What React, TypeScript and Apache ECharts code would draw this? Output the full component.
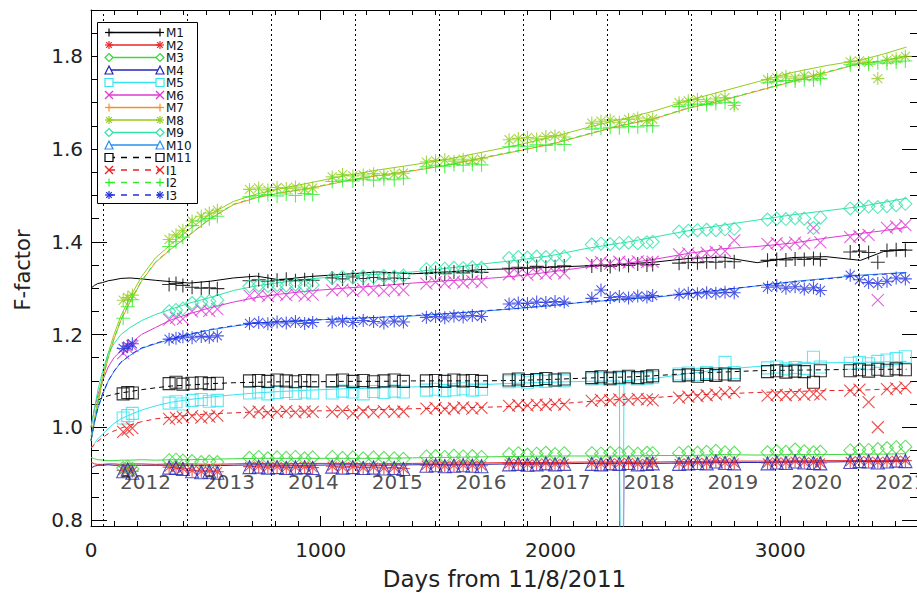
import React, { useEffect, useRef } from "react";
import * as echarts from "echarts";

const FONT = "'DejaVu Sans', sans-serif";

// ---------- axis / annotation data ----------
const xMajorTicks = [0, 1000, 2000, 3000];
const xMinorTicks = [100, 200, 300, 400, 500, 600, 700, 800, 900, 1100, 1200, 1300, 1400, 1500, 1600, 1700, 1800, 1900, 2100, 2200, 2300, 2400, 2500, 2600, 2700, 2800, 2900, 3100, 3200, 3300, 3400, 3500];
const yMajorTicks = [0.8, 1.0, 1.2, 1.4, 1.6, 1.8];
const yMinorTicks = [0.85, 0.9, 0.95, 1.05, 1.1, 1.15, 1.25, 1.3, 1.35, 1.45, 1.5, 1.55, 1.65, 1.7, 1.75, 1.85];
const yearNames = ["2012", "2013", "2014", "2015", "2016", "2017", "2018", "2019", "2020", "2021"];
const yearStartDays = [54, 420, 785, 1150, 1516, 1881, 2246, 2611, 2977, 3342];
const yearMidDays = [237, 603, 968, 1333, 1698, 2064, 2429, 2794, 3159, 3525];
const yearLabelLevel = 0.882;

// ---------- smooth/trend line data ----------
const lineDays = [0, 15, 30, 50, 75, 100, 130, 170, 220, 280, 350, 430, 520, 620, 720, 820, 950, 1100, 1250, 1400, 1550, 1700, 1850, 2000, 2150, 2300, 2305, 2315, 2320, 2450, 2600, 2750, 2900, 3050, 3200, 3350, 3450, 3550];

const lineM1 = [1.300, 1.306, 1.31, 1.312, 1.316, 1.318, 1.321, 1.322, 1.320, 1.317, 1.314, 1.311, 1.315, 1.322, 1.326, 1.318, 1.325, 1.330, 1.335, 1.331, 1.335, 1.340, 1.342, 1.345, 1.348, 1.350, 1.351, 1.349, 1.352, 1.356, 1.364, 1.367, 1.355, 1.366, 1.368, 1.360, 1.379, 1.383];
const lineM2 = [0.925, 0.921, 0.92, 0.92, 0.921, 0.921, 0.92, 0.921, 0.921, 0.92, 0.921, 0.921, 0.92, 0.921, 0.922, 0.921, 0.922, 0.922, 0.921, 0.922, 0.923, 0.923, 0.924, 0.924, 0.925, 0.925, 0.925, 0.925, 0.925, 0.925, 0.926, 0.927, 0.927, 0.927, 0.928, 0.928, 0.928, 0.929];
const lineM3 = [0.935, 0.932, 0.93, 0.929, 0.928, 0.928, 0.929, 0.929, 0.93, 0.929, 0.93, 0.93, 0.931, 0.932, 0.933, 0.933, 0.933, 0.933, 0.933, 0.934, 0.935, 0.936, 0.937, 0.938, 0.938, 0.938, 0.938, 0.938, 0.938, 0.939, 0.939, 0.941, 0.94, 0.941, 0.941, 0.942, 0.942, 0.943];
const lineM4 = [0.912, 0.916, 0.918, 0.918, 0.919, 0.918, 0.918, 0.918, 0.918, 0.918, 0.918, 0.918, 0.917, 0.918, 0.919, 0.918, 0.918, 0.919, 0.918, 0.919, 0.92, 0.92, 0.921, 0.921, 0.922, 0.922, 0.5, 0.5, 0.922, 0.922, 0.923, 0.924, 0.924, 0.925, 0.925, 0.926, 0.926, 0.927];
const lineM5 = [0.955, 0.965, 0.975, 0.985, 0.997, 1.008, 1.018, 1.027, 1.037, 1.046, 1.054, 1.06, 1.065, 1.07, 1.074, 1.077, 1.08, 1.083, 1.085, 1.087, 1.088, 1.092, 1.095, 1.097, 1.099, 1.1, 0.5, 0.5, 1.1, 1.105, 1.116, 1.125, 1.131, 1.136, 1.139, 1.14, 1.141, 1.142];
const lineM6 = [1.0, 1.04, 1.07, 1.1, 1.13, 1.15, 1.165, 1.18, 1.2, 1.215, 1.232, 1.245, 1.258, 1.27, 1.28, 1.287, 1.294, 1.3, 1.305, 1.311, 1.316, 1.32, 1.326, 1.335, 1.345, 1.352, 1.352, 1.353, 1.353, 1.362, 1.375, 1.385, 1.39, 1.397, 1.408, 1.418, 1.424, 1.431];
const lineM7 = [0.97, 1.01, 1.05, 1.1, 1.15, 1.19, 1.23, 1.27, 1.315, 1.355, 1.385, 1.415, 1.45, 1.48, 1.495, 1.505, 1.515, 1.53, 1.543, 1.553, 1.565, 1.58, 1.595, 1.61, 1.63, 1.65, 1.65, 1.651, 1.652, 1.665, 1.688, 1.705, 1.725, 1.745, 1.765, 1.785, 1.79, 1.8];
const lineM8 = [0.98, 1.02, 1.06, 1.11, 1.16, 1.2, 1.24, 1.28, 1.325, 1.365, 1.395, 1.428, 1.46, 1.487, 1.503, 1.514, 1.527, 1.542, 1.555, 1.566, 1.578, 1.593, 1.608, 1.625, 1.645, 1.664, 1.664, 1.665, 1.665, 1.682, 1.705, 1.725, 1.745, 1.765, 1.78, 1.792, 1.805, 1.82];
const lineM9 = [1.0, 1.04, 1.08, 1.12, 1.16, 1.18, 1.2, 1.215, 1.23, 1.243, 1.255, 1.268, 1.28, 1.295, 1.305, 1.312, 1.32, 1.326, 1.33, 1.335, 1.343, 1.352, 1.36, 1.37, 1.385, 1.397, 1.397, 1.398, 1.398, 1.41, 1.424, 1.436, 1.447, 1.458, 1.467, 1.476, 1.485, 1.494];
const lineM10 = [0.97, 1.01, 1.04, 1.07, 1.1, 1.12, 1.14, 1.155, 1.17, 1.18, 1.19, 1.2, 1.21, 1.218, 1.225, 1.228, 1.231, 1.234, 1.237, 1.24, 1.245, 1.25, 1.256, 1.262, 1.27, 1.275, 1.275, 1.276, 1.276, 1.28, 1.288, 1.296, 1.305, 1.314, 1.321, 1.328, 1.331, 1.334];
const lineM11 = [null, null, 1.058, 1.064, 1.068, 1.071, 1.074, 1.077, 1.081, 1.085, 1.089, 1.091, 1.094, 1.096, 1.097, 1.098, 1.098, 1.099, 1.099, 1.1, 1.1, 1.1, 1.101, 1.103, 1.106, 1.108, 1.108, 1.108, 1.108, 1.111, 1.116, 1.119, 1.122, 1.123, 1.124, 1.125, 1.125, 1.125];
const lineI1 = [0.955, 0.962, 0.97, 0.978, 0.986, 0.992, 0.998, 1.005, 1.012, 1.018, 1.022, 1.026, 1.029, 1.031, 1.033, 1.034, 1.035, 1.036, 1.038, 1.04, 1.041, 1.043, 1.045, 1.049, 1.055, 1.06, 1.06, 1.06, 1.06, 1.064, 1.069, 1.072, 1.075, 1.077, 1.079, 1.08, 1.082, 1.084];
const lineI2 = [0.972, 1.012, 1.052, 1.1, 1.152, 1.19, 1.232, 1.272, 1.316, 1.356, 1.386, 1.416, 1.451, 1.481, 1.496, 1.506, 1.516, 1.531, 1.544, 1.554, 1.566, 1.581, 1.596, 1.611, 1.631, 1.651, 1.651, 1.652, 1.653, 1.666, 1.689, 1.706, 1.726, 1.746, 1.766, 1.786, 1.791, 1.801];
const lineI3 = [0.972, 1.012, 1.042, 1.072, 1.1, 1.121, 1.14, 1.156, 1.171, 1.181, 1.191, 1.201, 1.211, 1.219, 1.224, 1.228, 1.231, 1.234, 1.237, 1.241, 1.245, 1.251, 1.256, 1.263, 1.27, 1.276, 1.276, 1.276, 1.276, 1.281, 1.289, 1.297, 1.305, 1.313, 1.32, 1.327, 1.33, 1.333];

// ---------- measurement markers ----------
const markerDays = [
  140, 160, 180,
  340, 370, 400, 440, 480, 515, 550,
  690, 730, 770, 810, 850, 890, 930, 965,
  1050, 1095, 1140, 1185, 1230, 1275, 1320, 1360,
  1460, 1500, 1540, 1580, 1620, 1660, 1700,
  1820, 1860, 1900, 1940, 1980, 2020, 2060,
  2180, 2220, 2260, 2300, 2340, 2380, 2420, 2445,
  2560, 2600, 2640, 2680, 2720, 2760, 2800,
  2945, 2985, 3025, 3065, 3105, 3145, 3175,
  3305, 3345, 3385, 3425, 3465, 3505, 3545,
];

const markM1 = [
  null, null, null,
  1.308, 1.31, 1.306, 1.302, 1.30, 1.301, 1.299,
  1.316, 1.318, 1.315, 1.317, 1.319, 1.316, 1.318, 1.317,
  1.322, 1.32, 1.324, 1.321, 1.323, 1.32, 1.322, 1.321,
  1.332, 1.334, 1.331, 1.335, 1.333, 1.336, 1.334,
  1.343, 1.345, 1.344, 1.347, 1.345, 1.346, 1.348,
  1.348, 1.35, 1.347, 1.351, 1.349, 1.352, 1.35, 1.351,
  1.354, 1.356, 1.355, 1.357, 1.356, 1.358, 1.357,
  1.36, 1.362, 1.361, 1.363, 1.362, 1.364, 1.362,
  1.378, 1.38, 1.377, 1.356, 1.381, 1.383, 1.382,
];
const markM2 = [
  0.907, 0.91, 0.905,
  0.914, 0.913, 0.911, 0.907, 0.905, 0.906, 0.904,
  0.915, 0.916, 0.914, 0.915, 0.913, 0.914, 0.915, 0.913,
  0.916, 0.914, 0.915, 0.913, 0.914, 0.912, 0.913, 0.911,
  0.918, 0.919, 0.917, 0.918, 0.919, 0.918, 0.917,
  0.921, 0.922, 0.92, 0.921, 0.923, 0.921, 0.922,
  0.922, 0.921, 0.923, 0.922, 0.924, 0.921, 0.922, 0.923,
  0.922, 0.923, 0.924, 0.923, 0.927, 0.924, 0.923,
  0.923, 0.925, 0.924, 0.927, 0.925, 0.924, 0.923,
  0.926, 0.928, 0.927, 0.925, 0.927, 0.929, 0.928,
];
const markM3 = [
  0.912, 0.915, 0.91,
  0.929, 0.93, 0.928, 0.927, 0.925, 0.926, 0.925,
  0.934, 0.936, 0.933, 0.935, 0.934, 0.936, 0.933, 0.935,
  0.936, 0.934, 0.935, 0.933, 0.935, 0.934, 0.933, 0.932,
  0.937, 0.938, 0.936, 0.939, 0.937, 0.938, 0.936,
  0.942, 0.944, 0.941, 0.943, 0.945, 0.942, 0.944,
  0.944, 0.943, 0.945, 0.944, 0.946, 0.943, 0.945, 0.944,
  0.944, 0.946, 0.945, 0.947, 0.949, 0.946, 0.945,
  0.946, 0.948, 0.947, 0.952, 0.948, 0.946, 0.947,
  0.95, 0.952, 0.951, 0.953, 0.955, 0.957, 0.958,
];
const markM4 = [
  0.905, 0.909, 0.902,
  0.913, 0.912, 0.91, 0.905, 0.903, 0.904, 0.902,
  0.914, 0.915, 0.913, 0.914, 0.912, 0.913, 0.914, 0.912,
  0.915, 0.913, 0.914, 0.912, 0.913, 0.911, 0.912, 0.91,
  0.917, 0.918, 0.916, 0.917, 0.918, 0.917, 0.916,
  0.92, 0.921, 0.919, 0.92, 0.922, 0.92, 0.921,
  0.921, 0.92, 0.922, 0.921, 0.923, 0.92, 0.921, 0.922,
  0.921, 0.922, 0.923, 0.922, 0.926, 0.923, 0.922,
  0.922, 0.924, 0.923, 0.926, 0.924, 0.923, 0.922,
  0.925, 0.927, 0.926, 0.924, 0.926, 0.928, 0.927,
];
const markM5 = [
  1.02, 1.025, 1.03,
  1.052, 1.055, 1.05, 1.058, 1.06, 1.056, 1.058,
  1.074, 1.076, 1.072, 1.075, 1.077, 1.073, 1.076, 1.074,
  1.074, 1.078, 1.076, 1.072, 1.077, 1.075, 1.078, 1.076,
  1.08, 1.082, 1.079, 1.081, 1.083, 1.08, 1.082,
  1.098, 1.10, 1.097, 1.101, 1.099, 1.102, 1.10,
  1.104, 1.106, 1.103, 1.105, 1.107, 1.104, 1.106, 1.108,
  1.115, 1.117, 1.114, 1.118, 1.116, 1.14, 1.118,
  1.128, 1.13, 1.126, 1.129, 1.127, 1.151, 1.13,
  1.138, 1.14, 1.137, 1.142, 1.145, 1.148, 1.152,
];
const markM6 = [
  1.16, 1.17, 1.175,
  1.232, 1.236, 1.234, 1.25, 1.253, 1.251, 1.255,
  1.284, 1.286, 1.283, 1.287, 1.285, 1.288, 1.284, 1.286,
  1.295, 1.297, 1.294, 1.298, 1.296, 1.294, 1.297, 1.296,
  1.31, 1.313, 1.311, 1.314, 1.312, 1.315, 1.313,
  1.33, 1.332, 1.329, 1.333, 1.331, 1.334, 1.332,
  1.354, 1.356, 1.353, 1.357, 1.355, 1.358, 1.356, 1.357,
  1.373, 1.375, 1.372, 1.376, 1.378, 1.38, 1.403,
  1.395, 1.397, 1.394, 1.398, 1.396, 1.43, 1.399,
  1.41, 1.412, 1.415, 1.274, 1.43, 1.433, 1.436,
];
const markM8 = [
  1.274, 1.28, 1.285,
  1.405, 1.415, 1.425, 1.445, 1.455, 1.462, 1.468,
  1.513, 1.516, 1.512, 1.517, 1.515, 1.518, 1.514, 1.516,
  1.54, 1.545, 1.542, 1.544, 1.547, 1.543, 1.546, 1.548,
  1.572, 1.575, 1.577, 1.574, 1.578, 1.576, 1.579,
  1.62, 1.623, 1.625, 1.622, 1.627, 1.629, 1.626,
  1.656, 1.66, 1.663, 1.658, 1.664, 1.667, 1.662, 1.665,
  1.70, 1.704, 1.707, 1.703, 1.708, 1.711, 1.694,
  1.75, 1.754, 1.757, 1.753, 1.758, 1.756, 1.76,
  1.788, 1.79, 1.787, 1.752, 1.792, 1.795, 1.80,
];
const markM9 = [
  null, null, null,
  1.25, 1.253, 1.256, 1.268, 1.27, 1.272, 1.274,
  1.304, 1.306, 1.305, 1.307, 1.306, 1.308, 1.305, 1.307,
  1.322, 1.324, 1.323, 1.325, 1.324, 1.326, 1.325, 1.327,
  1.341, 1.343, 1.342, 1.344, 1.343, 1.345, 1.344,
  1.365, 1.367, 1.366, 1.368, 1.367, 1.369, 1.368,
  1.394, 1.396, 1.395, 1.397, 1.398, 1.397, 1.399, 1.40,
  1.422, 1.424, 1.425, 1.426, 1.425, 1.427, 1.428,
  1.448, 1.45, 1.449, 1.451, 1.45, 1.43, 1.452,
  1.472, 1.474, 1.476, 1.475, 1.477, 1.479, 1.482,
];
const markM11 = [
  1.072, 1.075, 1.074,
  1.094, 1.097, 1.093, 1.095, 1.096, 1.094, 1.095,
  1.10, 1.101, 1.099, 1.102, 1.10, 1.098, 1.101, 1.10,
  1.10, 1.102, 1.099, 1.101, 1.098, 1.10, 1.102, 1.099,
  1.10, 1.101, 1.099, 1.102, 1.10, 1.101, 1.099,
  1.102, 1.104, 1.101, 1.103, 1.105, 1.102, 1.104,
  1.107, 1.109, 1.106, 1.108, 1.11, 1.107, 1.109, 1.111,
  1.111, 1.113, 1.11, 1.114, 1.112, 1.115, 1.113,
  1.12, 1.122, 1.119, 1.121, 1.12, 1.097, 1.122,
  1.122, 1.124, 1.121, 1.125, 1.123, 1.126, 1.124,
];
const markI1 = [
  0.99, 0.995, 0.998,
  1.018, 1.02, 1.022, 1.024, 1.021, 1.023, 1.025,
  1.032, 1.034, 1.031, 1.033, 1.035, 1.032, 1.034, 1.033,
  1.033, 1.035, 1.03, 1.034, 1.032, 1.035, 1.033, 1.034,
  1.04, 1.042, 1.039, 1.041, 1.043, 1.04, 1.042,
  1.046, 1.048, 1.047, 1.049, 1.048, 1.05, 1.049,
  1.057, 1.059, 1.058, 1.06, 1.059, 1.061, 1.06, 1.058,
  1.064, 1.066, 1.067, 1.069, 1.071, 1.074, 1.076,
  1.068, 1.07, 1.069, 1.071, 1.07, 1.072, 1.071,
  1.079, 1.081, 1.054, 1.0, 1.082, 1.084, 1.086,
];
const markI2 = [
  1.235, 1.26, 1.275,
  1.39, 1.40, 1.41, 1.435, 1.445, 1.45, 1.455,
  1.497, 1.50, 1.502, 1.499, 1.503, 1.50, 1.504, 1.502,
  1.53, 1.533, 1.531, 1.535, 1.533, 1.536, 1.534, 1.537,
  1.562, 1.565, 1.563, 1.567, 1.565, 1.568, 1.566,
  1.605, 1.607, 1.606, 1.609, 1.608, 1.611, 1.61,
  1.643, 1.645, 1.647, 1.646, 1.649, 1.648, 1.651, 1.65,
  1.692, 1.695, 1.697, 1.696, 1.699, 1.701, 1.70,
  1.743, 1.746, 1.748, 1.747, 1.75, 1.749, 1.752,
  1.782, 1.784, 1.783, 1.786, 1.785, 1.788, 1.79,
];
const markI3 = [
  1.17, 1.175, 1.18,
  1.19, 1.192, 1.195, 1.193, 1.196, 1.194, 1.197,
  1.224, 1.226, 1.223, 1.227, 1.225, 1.228, 1.224, 1.226,
  1.227, 1.229, 1.226, 1.23, 1.228, 1.225, 1.229, 1.227,
  1.237, 1.239, 1.236, 1.24, 1.238, 1.241, 1.239,
  1.266, 1.268, 1.267, 1.27, 1.269, 1.271, 1.27,
  1.278, 1.296, 1.28, 1.282, 1.279, 1.283, 1.281, 1.284,
  1.287, 1.289, 1.288, 1.29, 1.289, 1.291, 1.29,
  1.302, 1.305, 1.30, 1.303, 1.298, 1.301, 1.295,
  1.328, 1.318, 1.312, 1.31, 1.315, 1.322, 1.32,
];

// ---------- series definitions (style only) ----------
type Sym = "plus" | "ast" | "diamond" | "triangle" | "square" | "x";
const defs: { name: string; color: string; dash: boolean; sym: Sym; line: (number | null)[]; marks: (number | null)[] | null }[] = [
  { name: "M1", color: "#000000", dash: false, sym: "plus", line: lineM1, marks: markM1 },
  { name: "M2", color: "#e82828", dash: false, sym: "ast", line: lineM2, marks: markM2 },
  { name: "M3", color: "#3cd83c", dash: false, sym: "diamond", line: lineM3, marks: markM3 },
  { name: "M4", color: "#2424b8", dash: false, sym: "triangle", line: lineM4, marks: markM4 },
  { name: "M5", color: "#38e4f0", dash: false, sym: "square", line: lineM5, marks: markM5 },
  { name: "M6", color: "#e038d4", dash: false, sym: "x", line: lineM6, marks: markM6 },
  { name: "M7", color: "#f0922c", dash: false, sym: "plus", line: lineM7, marks: null },
  { name: "M8", color: "#94cc1c", dash: false, sym: "ast", line: lineM8, marks: markM8 },
  { name: "M9", color: "#2ee4aa", dash: false, sym: "diamond", line: lineM9, marks: markM9 },
  { name: "M10", color: "#2890f0", dash: false, sym: "triangle", line: lineM10, marks: null },
  { name: "M11", color: "#000000", dash: true, sym: "square", line: lineM11, marks: markM11 },
  { name: "I1", color: "#e82020", dash: true, sym: "x", line: lineI1, marks: markI1 },
  { name: "I2", color: "#2cee2c", dash: true, sym: "plus", line: lineI2, marks: markI2 },
  { name: "I3", color: "#2030e0", dash: true, sym: "ast", line: lineI3, marks: markI3 },
];

const symbolPath: Record<Sym, string> = {
  plus: "path://M5,0L5,10M0,5L10,5",
  ast: "path://M5,0L5,10M0,5L10,5M1.5,1.5L8.5,8.5M8.5,1.5L1.5,8.5",
  x: "path://M0,0L10,10M10,0L0,10",
  diamond: "diamond",
  triangle: "triangle",
  square: "rect",
};
const symbolSize: Record<Sym, number> = { plus: 14, ast: 13, x: 12, diamond: 13, triangle: 13, square: 12 };

function legendSymbol(sym: Sym, cx: number, cy: number, s: number, color: string): any[] {
  const h = s / 2;
  const st = { stroke: color, lineWidth: 1.2, fill: "none" };
  const ln = (x1: number, y1: number, x2: number, y2: number) => ({ type: "line", z: 102, shape: { x1, y1, x2, y2 }, style: st });
  switch (sym) {
    case "plus":
      return [ln(cx - h, cy, cx + h, cy), ln(cx, cy - h, cx, cy + h)];
    case "x":
      return [ln(cx - h, cy - h, cx + h, cy + h), ln(cx - h, cy + h, cx + h, cy - h)];
    case "ast":
      return [ln(cx - h, cy, cx + h, cy), ln(cx, cy - h, cx, cy + h), ln(cx - h * 0.7, cy - h * 0.7, cx + h * 0.7, cy + h * 0.7), ln(cx - h * 0.7, cy + h * 0.7, cx + h * 0.7, cy - h * 0.7)];
    case "diamond":
      return [{ type: "polygon", z: 102, shape: { points: [[cx, cy - h], [cx + h, cy], [cx, cy + h], [cx - h, cy]] }, style: { ...st, fill: "#fff" } }];
    case "triangle":
      return [{ type: "polygon", z: 102, shape: { points: [[cx, cy - h], [cx + h, cy + h], [cx - h, cy + h]] }, style: { ...st, fill: "#fff" } }];
    case "square":
      return [{ type: "rect", z: 102, shape: { x: cx - h, y: cy - h, width: s, height: s }, style: { ...st, fill: "#fff" } }];
  }
  return [];
}

function buildLegend(): any[] {
  const els: any[] = [];
  els.push({ type: "rect", z: 100, shape: { x: 97.5, y: 22.5, width: 100, height: 181 }, style: { fill: "#ffffff", stroke: "#000", lineWidth: 1 } });
  defs.forEach((d, i) => {
    const y = 32.5 + i * 12.5;
    els.push({ type: "line", z: 101, shape: { x1: 109, y1: y, x2: 160, y2: y }, style: { stroke: d.color, lineWidth: 1.6, lineDash: d.dash ? [6, 6] : null } });
    els.push(...legendSymbol(d.sym, 109, y, 8, d.color));
    els.push(...legendSymbol(d.sym, 160, y, 8, d.color));
    els.push({ type: "text", z: 102, x: 166, y: y + 0.5, style: { text: d.name, fill: "#111", fontSize: 12, lineHeight: 12, fontFamily: FONT, align: "left", verticalAlign: "middle" } });
  });
  els.push({
    type: "text",
    z: 50,
    x: 23,
    y: 270,
    rotation: Math.PI / 2,
    style: { text: "F-factor", fill: "#222", fontSize: 21, fontFamily: FONT, align: "center", verticalAlign: "middle" },
  });
  return els;
}

function buildOption(): any {
  const axisCommonX = { type: "value", min: 0, max: 3600, splitLine: { show: false } };
  const axisCommonY = { type: "value", min: 0.787, max: 1.9, splitLine: { show: false } };
  const tickStyle = { color: "#000", width: 1 };

  const series: any[] = [];
  defs.forEach((d, idx) => {
    series.push({
      type: "line",
      name: d.name,
      data: lineDays.map((day, i) => [day, d.line[i]]),
      showSymbol: false,
      symbol: "none",
      connectNulls: false,
      silent: true,
      lineStyle: { color: d.color, width: 1, type: d.dash ? [5, 4] : "solid" },
      z: 3,
      ...(idx === 0
        ? {
            markLine: {
              silent: true,
              symbol: ["none", "none"],
              label: { show: false },
              lineStyle: { color: "#000", width: 1, type: [2, 3] },
              data: yearStartDays.map((v) => ({ xAxis: v })),
            },
          }
        : {}),
    });
    if (d.marks) {
      series.push({
        type: "scatter",
        name: d.name + " pts",
        data: markerDays.map((day, i) => [day, d.marks![i]]).filter((p) => p[1] != null),
        symbol: symbolPath[d.sym],
        symbolSize: symbolSize[d.sym],
        silent: true,
        itemStyle: { color: "none", borderColor: d.color, borderWidth: 1.1 },
        z: 3,
      });
    }
  });
  series.push({
    type: "scatter",
    name: "years",
    data: yearMidDays.map((d, i) => ({ value: [d, yearLabelLevel], name: yearNames[i] })),
    symbolSize: 1,
    itemStyle: { color: "rgba(0,0,0,0)" },
    silent: true,
    clip: false,
    z: 4,
    label: { show: true, position: "inside", formatter: "{b}", color: "#222", fontSize: 20, fontFamily: FONT },
  });

  return {
    animation: false,
    backgroundColor: "#ffffff",
    textStyle: { fontFamily: FONT },
    grid: { left: 91, right: -1, top: 10, bottom: 68, containLabel: false, outerBoundsMode: "none" },
    xAxis: [
      {
        ...axisCommonX,
        position: "bottom",
        axisLine: { show: true, onZero: false, lineStyle: tickStyle },
        axisTick: { show: true, inside: true, length: 10, customValues: xMajorTicks, lineStyle: tickStyle },
        axisLabel: { customValues: xMajorTicks, margin: 14, fontSize: 20, color: "#222", fontFamily: FONT, formatter: (v: number) => String(v) },
        name: "Days from 11/8/2011",
        nameLocation: "middle",
        nameGap: 41,
        nameTextStyle: { fontSize: 23, color: "#222", fontFamily: FONT },
      },
      {
        ...axisCommonX,
        position: "bottom",
        axisLine: { show: false, onZero: false },
        axisTick: { show: true, inside: true, length: 5, customValues: xMinorTicks, lineStyle: tickStyle },
        axisLabel: { show: false },
      },
      {
        ...axisCommonX,
        position: "top",
        axisLine: { show: true, onZero: false, lineStyle: tickStyle },
        axisTick: { show: true, inside: true, length: 10, customValues: xMajorTicks, lineStyle: tickStyle },
        axisLabel: { show: false },
      },
      {
        ...axisCommonX,
        position: "top",
        axisLine: { show: false, onZero: false },
        axisTick: { show: true, inside: true, length: 5, customValues: xMinorTicks, lineStyle: tickStyle },
        axisLabel: { show: false },
      },
    ],
    yAxis: [
      {
        ...axisCommonY,
        position: "left",
        axisLine: { show: true, onZero: false, lineStyle: tickStyle },
        axisTick: { show: true, inside: true, length: 16, customValues: yMajorTicks, lineStyle: tickStyle },
        axisLabel: { customValues: yMajorTicks, margin: 8, fontSize: 20, color: "#222", fontFamily: FONT, formatter: (v: number) => v.toFixed(1) },
      },
      {
        ...axisCommonY,
        position: "left",
        axisLine: { show: false, onZero: false },
        axisTick: { show: true, inside: true, length: 8, customValues: yMinorTicks, lineStyle: tickStyle },
        axisLabel: { show: false },
      },
      {
        ...axisCommonY,
        position: "right",
        axisLine: { show: true, onZero: false, lineStyle: tickStyle },
        axisTick: { show: true, inside: true, length: 16, customValues: yMajorTicks, lineStyle: tickStyle },
        axisLabel: { show: false },
      },
      {
        ...axisCommonY,
        position: "right",
        axisLine: { show: false, onZero: false },
        axisTick: { show: true, inside: true, length: 8, customValues: yMinorTicks, lineStyle: tickStyle },
        axisLabel: { show: false },
      },
    ],
    series,
    graphic: buildLegend(),
  };
}

export default function App() {
  const ref = useRef<HTMLDivElement>(null);
  useEffect(() => {
    document.body.style.margin = "0";
    const chart = echarts.init(ref.current!, null, { renderer: "svg" });
    chart.setOption(buildOption());
    return () => chart.dispose();
  }, []);
  return <div ref={ref} style={{ width: 917, height: 594, background: "#fff" }} />;
}
